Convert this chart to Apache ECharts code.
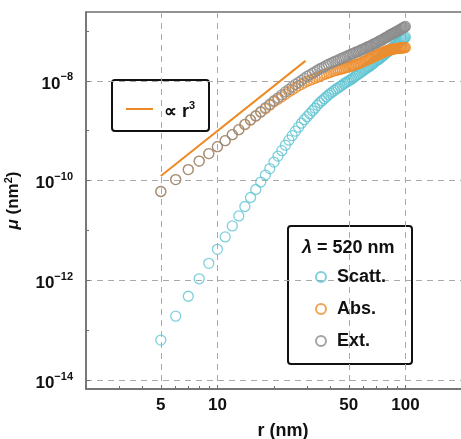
<!DOCTYPE html>
<html lang="en">
<head>
    <meta charset="UTF-8">
    <title>Cross sections vs radius</title>
    <script src="https://cdn.jsdelivr.net/npm/echarts@6.0.0/dist/echarts.min.js"></script>
    <style>
        html, body { margin: 0; padding: 0; background: #fff; }
        #chart { width: 461px; height: 439px; }
    </style>
</head>
<body>
<div id="chart"></div>
<script>
    // radius r (nm)
    var radii = [5, 6, 7, 8, 9, 10, 11, 12, 13, 14, 15, 16, 17, 18, 19, 20, 21, 22, 23, 24,
        25, 26, 27, 28, 29, 30, 31, 32, 33, 34, 35, 36, 37, 38, 39, 40, 41, 42, 43, 44,
        45, 46, 47, 48, 49, 50, 51, 52, 53, 54, 55, 56, 57, 58, 59, 60, 61, 62, 63, 64,
        65, 66, 67, 68, 69, 70, 71, 72, 73, 74, 75, 76, 77, 78, 79, 80, 81, 82, 83, 84,
        85, 86, 87, 88, 89, 90, 91, 92, 93, 94, 95, 96, 97, 98, 99, 100];

    // log10 of mu (nm^2)
    var scattLog = [-13.20, -12.72, -12.32, -11.97, -11.66, -11.38, -11.13, -10.91, -10.71, -10.52,
        -10.34, -10.18, -10.03, -9.89, -9.76, -9.63, -9.51, -9.40, -9.29, -9.19,
        -9.10, -9.01, -8.93, -8.85, -8.78, -8.72, -8.66, -8.60, -8.55, -8.49,
        -8.44, -8.40, -8.36, -8.32, -8.28, -8.25, -8.22, -8.19, -8.16, -8.14,
        -8.11, -8.09, -8.06, -8.04, -8.02, -8.00, -7.98, -7.96, -7.94, -7.91,
        -7.89, -7.87, -7.85, -7.83, -7.81, -7.79, -7.77, -7.75, -7.73, -7.72,
        -7.70, -7.68, -7.66, -7.64, -7.62, -7.60, -7.58, -7.57, -7.55, -7.53,
        -7.51, -7.49, -7.48, -7.46, -7.44, -7.42, -7.41, -7.39, -7.37, -7.36,
        -7.34, -7.33, -7.31, -7.30, -7.28, -7.27, -7.25, -7.24, -7.22, -7.21,
        -7.19, -7.18, -7.17, -7.15, -7.14, -7.12];

    var absLog = [-10.22, -9.98, -9.78, -9.61, -9.46, -9.32, -9.20, -9.08, -8.98, -8.88,
        -8.79, -8.71, -8.63, -8.56, -8.49, -8.42, -8.37, -8.32, -8.27, -8.22,
        -8.18, -8.14, -8.10, -8.07, -8.04, -8.01, -7.99, -7.97, -7.95, -7.93,
        -7.91, -7.89, -7.87, -7.86, -7.84, -7.83, -7.81, -7.80, -7.79, -7.78,
        -7.77, -7.76, -7.75, -7.74, -7.73, -7.72, -7.71, -7.70, -7.69, -7.68,
        -7.67, -7.66, -7.65, -7.64, -7.62, -7.61, -7.60, -7.59, -7.57, -7.56,
        -7.55, -7.54, -7.52, -7.51, -7.50, -7.49, -7.48, -7.47, -7.46, -7.45,
        -7.44, -7.43, -7.42, -7.41, -7.40, -7.40, -7.39, -7.38, -7.38, -7.37,
        -7.37, -7.36, -7.36, -7.36, -7.35, -7.35, -7.35, -7.35, -7.34, -7.34,
        -7.34, -7.34, -7.34, -7.34, -7.33, -7.33];

    var extLog = [-10.22, -9.98, -9.78, -9.61, -9.46, -9.32, -9.20, -9.08, -8.98, -8.87,
        -8.78, -8.70, -8.62, -8.54, -8.47, -8.40, -8.34, -8.28, -8.22, -8.17,
        -8.12, -8.07, -8.03, -7.99, -7.95, -7.91, -7.88, -7.85, -7.82, -7.79,
        -7.76, -7.74, -7.72, -7.69, -7.67, -7.65, -7.63, -7.61, -7.60, -7.58,
        -7.56, -7.55, -7.53, -7.52, -7.50, -7.49, -7.47, -7.46, -7.45, -7.43,
        -7.42, -7.41, -7.40, -7.38, -7.37, -7.36, -7.35, -7.33, -7.32, -7.31,
        -7.30, -7.29, -7.27, -7.26, -7.25, -7.24, -7.23, -7.21, -7.20, -7.19,
        -7.18, -7.17, -7.15, -7.14, -7.13, -7.12, -7.11, -7.09, -7.08, -7.07,
        -7.06, -7.05, -7.04, -7.03, -7.02, -7.01, -7.00, -6.99, -6.98, -6.97,
        -6.96, -6.95, -6.94, -6.93, -6.92, -6.91];

    // the r^3 guide line
    var guideR = [5, 29.4];
    var guideLog = [-9.91, -7.60];

    // ticks
    var xLabelTicks = [5, 10, 50, 100];
    var xMinorTicks = [2, 3, 4, 6, 7, 8, 9, 20, 30, 40, 60, 70, 80, 90, 200];
    var yLabelTicks = [1e-14, 1e-12, 1e-10, 1e-8];
    var yMinorTicks = [1e-13, 1e-11, 1e-9, 1e-7];

    function pairs(xs, logs) {
        var out = [];
        for (var i = 0; i < xs.length; i++) {
            out.push([xs[i], Math.pow(10, logs[i])]);
        }
        return out;
    }

    var font = 'Liberation Sans, Arial, sans-serif';
    var gridColor = '#a9a9a9';
    var frameColor = '#6f6f6f';
    var ink = '#111';

    var chart = echarts.init(document.getElementById('chart'));

    function ringSeries(name, color, logs) {
        return {
            name: name,
            type: 'scatter',
            xAxisIndex: 0,
            yAxisIndex: 0,
            symbol: 'circle',
            symbolSize: 10,
            itemStyle: { color: 'rgba(0,0,0,0)', borderColor: color, borderWidth: 1.3 },
            emphasis: { disabled: true },
            data: pairs(radii, logs)
        };
    }

    var option = {
        animation: false,
        textStyle: { fontFamily: font },
        grid: {
            left: 86, top: 12, width: 376, height: 377,
            show: true, borderColor: frameColor, borderWidth: 1.5,
            outerBoundsMode: 'none'
        },
        xAxis: [{
            type: 'log', min: 2, max: 200,
            name: 'r (nm)', nameLocation: 'middle', nameGap: 33,
            nameTextStyle: { fontSize: 18, fontWeight: 'bold', color: ink, padding: [0, 0, 0, 18] },
            axisLine: { lineStyle: { color: frameColor, width: 1.5 } },
            axisTick: { show: true, inside: true, length: 4, customValues: xLabelTicks, lineStyle: { color: frameColor } },
            axisLabel: {
                customValues: xLabelTicks, margin: 8,
                fontSize: 17, fontWeight: 'bold', color: ink
            },
            splitLine: { show: true, lineStyle: { color: gridColor, type: [6, 5], width: 1 } }
        }, {
            type: 'log', min: 2, max: 200, position: 'bottom',
            axisLine: { show: false },
            axisTick: { show: true, inside: true, length: 3, customValues: xMinorTicks, lineStyle: { color: frameColor } },
            axisLabel: { show: false },
            splitLine: { show: false }
        }],
        yAxis: [{
            type: 'log', min: 6.6e-15, max: 2.4e-7,
            name: '{i|μ} (nm{s|2})', nameLocation: 'middle', nameGap: 62, nameRotate: 90,
            nameTextStyle: {
                fontSize: 17, fontWeight: 'bold', color: ink,
                rich: {
                    i: { fontSize: 17, fontWeight: 'bold', fontStyle: 'italic', color: ink },
                    s: { fontSize: 11, fontWeight: 'bold', color: ink, padding: [0, 0, 10, 0] }
                }
            },
            axisLine: { lineStyle: { color: frameColor, width: 1.5 } },
            axisTick: { show: true, inside: true, length: 4, customValues: yLabelTicks, lineStyle: { color: frameColor } },
            axisLabel: {
                customValues: yLabelTicks, margin: 13,
                formatter: function (v) {
                    var e = Math.round(Math.log10(v));
                    return '{b|10}{s|' + String(e).replace('-', '\u2212') + '}';
                },
                rich: {
                    b: { fontSize: 17, fontWeight: 'bold', color: ink, padding: [6, 0, 0, 0] },
                    s: { fontSize: 11, fontWeight: 'bold', color: ink, padding: [0, 0, 7, 0] }
                }
            },
            splitLine: { show: true, lineStyle: { color: gridColor, type: [6, 5], width: 1 } }
        }, {
            type: 'log', min: 6.6e-15, max: 2.4e-7, position: 'left',
            axisLine: { show: false },
            axisTick: { show: true, inside: true, length: 3, customValues: yMinorTicks, lineStyle: { color: frameColor } },
            axisLabel: { show: false },
            splitLine: { show: false }
        }],
        legend: [{
            data: ['Scatt.', 'Abs.', 'Ext.'],
            orient: 'vertical', left: 315, top: 268, padding: 0,
            itemWidth: 10, itemHeight: 10, itemGap: 14,
            selectedMode: false,
            textStyle: { fontSize: 18, fontWeight: 'bold', color: ink, padding: [0, 0, 0, 6] }
        }, {
            data: ['r3'],
            left: 126, top: 100, padding: 0,
            icon: 'rect', itemWidth: 27, itemHeight: 2,
            selectedMode: false,
            formatter: function () { return '{t|\u221d r}{s|3}'; },
            textStyle: {
                color: ink, padding: [0, 0, 0, 6],
                rich: {
                    t: { fontSize: 18, fontWeight: 'bold', color: ink, padding: [6, 0, 0, 0] },
                    s: { fontSize: 11, fontWeight: 'bold', color: ink, padding: [0, 0, 7, 0] }
                }
            }
        }],
        graphic: [{
            type: 'rect', z: 0,
            shape: { x: 112, y: 80, width: 97, height: 51, r: 3 },
            style: { fill: '#fff', stroke: ink, lineWidth: 2 }
        }, {
            type: 'rect', z: 0,
            shape: { x: 288, y: 226, width: 124, height: 138, r: 3 },
            style: { fill: '#fff', stroke: ink, lineWidth: 2 }
        }, {
            type: 'text', z: 10, left: 302, top: 239,
            style: {
                text: '{i|λ} = 520 nm',
                rich: {
                    i: { fontFamily: font, fontSize: 18, fontWeight: 'bold', fontStyle: 'italic', fill: ink }
                },
                fontFamily: font, fontSize: 18, fontWeight: 'bold', fill: ink
            }
        }],
        series: [
            ringSeries('Scatt.', '#5fc4d2', scattLog),
            ringSeries('Abs.', '#ee8c2c', absLog),
            ringSeries('Ext.', '#8c8c8c', extLog),
            {
                name: 'r3',
                type: 'line',
                symbol: 'none',
                lineStyle: { color: '#ee8a24', width: 2 },
                itemStyle: { color: '#ee8a24' },
                emphasis: { disabled: true },
                data: pairs(guideR, guideLog)
            }
        ]
    };

    chart.setOption(option);
</script>
</body>
</html>
